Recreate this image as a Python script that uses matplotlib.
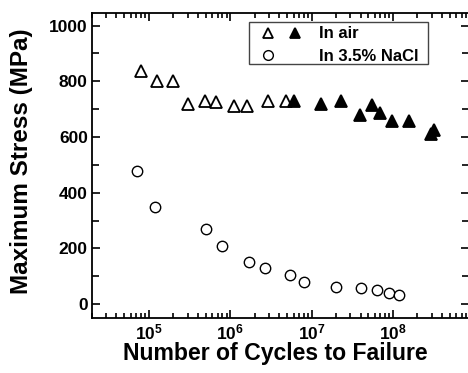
import matplotlib
matplotlib.use("Agg")
import matplotlib.pyplot as plt
from matplotlib.lines import Line2D
from matplotlib.patches import Rectangle
from matplotlib.legend_handler import HandlerTuple
from matplotlib.ticker import LogLocator, MultipleLocator, FixedLocator, NullFormatter

plt.rcParams['font.family'] = ['Liberation Sans', 'DejaVu Sans']
plt.rcParams['font.weight'] = 'bold'
plt.rcParams['mathtext.fontset'] = 'custom'
plt.rcParams['mathtext.rm'] = 'Liberation Sans:bold'
plt.rcParams['mathtext.bf'] = 'Liberation Sans:bold'
plt.rcParams['mathtext.it'] = 'Liberation Sans:bold'

# In air, open symbols
air_open_cycles = [8.0e4, 1.27e5, 2.0e5, 3.0e5, 4.9e5, 6.7e5, 1.1e6, 1.6e6, 2.95e6, 4.9e6]
air_open_stress = [838, 800, 800, 718, 730, 726, 710, 710, 730, 730]
# In air, filled symbols
air_filled_cycles = [6.1e6, 1.32e7, 2.3e7, 3.9e7, 5.6e7, 6.9e7, 9.8e7, 1.56e8, 2.9e8, 3.2e8]
air_filled_stress = [728, 717, 728, 678, 714, 687, 656, 656, 610, 626]
# In 3.5% NaCl
nacl_cycles = [7.1e4, 1.2e5, 5.0e5, 8.0e5, 1.7e6, 2.7e6, 5.5e6, 8.0e6, 2.0e7, 4.0e7, 6.3e7, 8.9e7, 1.2e8]
nacl_stress = [478, 348, 268, 208, 152, 128, 103, 79, 63, 58, 50, 40, 34]

xticks = [1e5, 1e6, 1e7, 1e8]
xtick_labels = [r'$10^{5}$', r'$10^{6}$', r'$10^{7}$', r'$10^{8}$']
yticks = [0, 200, 400, 600, 800, 1000]
legend_labels = ['In air', 'In 3.5% NaCl']

W, H = 468, 373
fig = plt.figure(figsize=(W / 100, H / 100), dpi=100)
ax = fig.add_axes([92 / W, (H - 318) / H, 377 / W, 305 / H])

ax.plot(air_open_cycles, air_open_stress, linestyle='none', marker='^', ms=8.5,
        mfc='white', mec='black', mew=1.3)
ax.plot(air_filled_cycles, air_filled_stress, linestyle='none', marker='^', ms=8.5,
        mfc='black', mec='black', mew=1.3)
ax.plot(nacl_cycles, nacl_stress, linestyle='none', marker='o', ms=7.5,
        mfc='white', mec='black', mew=1.0)

ax.set_xscale('log')
ax.set_xlim(2.0e4, 8.6e8)
ax.set_ylim(-50, 1045)

ax.xaxis.set_major_locator(FixedLocator(xticks))
ax.set_xticklabels(xtick_labels)
ax.xaxis.set_minor_locator(LogLocator(base=10, subs=range(2, 10), numticks=20))
ax.xaxis.set_minor_formatter(NullFormatter())
ax.set_yticks(yticks)
ax.set_yticklabels([str(v) for v in yticks])
ax.yaxis.set_minor_locator(MultipleLocator(100))

ax.tick_params(which='both', direction='in', top=True, right=True, width=1.2)
ax.tick_params(which='major', length=6, labelsize=12.5, pad=3)
ax.tick_params(which='minor', length=3.5)
ax.tick_params(axis='y', which='minor', length=5)
for lab in ax.get_yticklabels() + ax.get_xticklabels():
    lab.set_fontweight('bold')
for s in ax.spines.values():
    s.set_linewidth(1.3)

ax.set_xlabel('Number of Cycles to Failure', fontsize=16.6, fontweight='bold')
ax.xaxis.set_label_coords((275.5 - 92) / 377, (318 - 360) / 305)
ax.xaxis.label.set_va('baseline')
ax.set_ylabel('Maximum Stress (MPa)', fontsize=17.5, fontweight='bold')
ax.yaxis.set_label_coords((22 - 92) / 377, (318 - 161) / 305)
ax.yaxis.label.set_va('center')

# legend
h_open = Line2D([], [], linestyle='none', marker='^', ms=6.8, mfc='white', mec='black', mew=1.3)
h_fill = Line2D([], [], linestyle='none', marker='^', ms=6.8, mfc='black', mec='black', mew=1.3)
h_circ = Line2D([], [], linestyle='none', marker='o', ms=7.0, mfc='white', mec='black', mew=1.0)
h_blank = Line2D([], [], linestyle='none', marker='none')
fs = 12
em = fs * 100 / 72.0
s_w, p_w = 20.0, 7.0
leg = ax.legend([(h_open, h_fill), (h_circ, h_blank)], legend_labels,
                handler_map={tuple: HandlerTuple(ndivide=None, pad=p_w / em)},
                loc='upper left',
                bbox_to_anchor=(258 / W, (H - 26.5) / H), bbox_transform=fig.transFigure,
                borderaxespad=0, borderpad=0, frameon=False,
                handlelength=(2 * s_w + p_w) / em, handletextpad=14 / em,
                prop={'weight': 'bold', 'size': fs}, labelspacing=0.44)
frame = Rectangle((249 / W, (H - 64) / H), (428 - 249) / W, (64 - 22.3) / H,
                  transform=fig.transFigure, fill=False, edgecolor='#444444', linewidth=1.0,
                  zorder=5)
fig.add_artist(frame)

fig.savefig('out.png', dpi=100)
